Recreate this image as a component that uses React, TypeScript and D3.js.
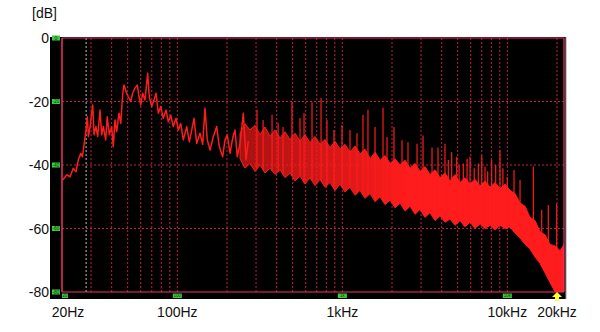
import React from 'react';
import * as d3 from 'd3';

const W = 600;
const H = 332;

// axis ticks / labels
const yTicks = [0, -20, -40, -60, -80];
const xLabelHz = [20, 100, 1000, 10000, 20000];
const xLabels = ['20Hz', '100Hz', '1kHz', '10kHz', '20kHz'];
const xTagHz = [20, 100, 1000, 10000];
const xTags = ['20', '100', '1k', '10k'];
const gridHz = [30, 40, 50, 60, 70, 80, 90, 100, 200, 300, 400, 500, 600, 700, 800, 900, 1000,
  2000, 3000, 4000, 5000, 6000, 7000, 8000, 9000, 10000, 20000];
const gridDb = [-20, -40, -60];
const markerHz = 28;
const cursorHz = 20000;

// jagged low-frequency trace (Hz, dB)
const traceHz = [20.2, 21.4, 22.4, 23.4, 24.3, 25.1, 26.0, 26.6, 27.3, 28.0, 28.5, 28.9, 29.6, 30.7, 31.3, 32.1,
  32.9, 34.0, 34.8, 35.6, 36.8, 37.6, 38.7, 40.0, 40.9, 41.9, 42.9, 44.3, 45.4, 46.7, 47.5, 48.9, 50.4, 52.2,
  53.6, 55.4, 57.2, 58.6, 60.0, 61.7, 63.7, 66.1, 67.6, 69.9, 72.2, 74.3, 76.7, 79.3, 82.2, 85.4, 88.2, 91.2,
  94.5, 98.2, 101.4, 104.8, 108.7, 114, 118.2, 122.2, 126.2, 131, 137.2, 142.5, 147.1, 151.9, 157.8, 165.2,
  173.2, 179.6, 188.3, 194.5, 200.8, 208.6, 216.6, 223.7, 230.9, 239.8, 251.2, 260.8, 269.2];
const traceDb = [-44.7, -43.1, -43.7, -41, -42.1, -38.4, -36.3, -37.4, -33, -29, -24.8, -31, -27.9, -21.1, -30.5, -27.9,
  -31, -22.7, -30.5, -27.9, -32.1, -24.8, -30.5, -27.9, -34.2, -25.8, -29.5, -23.7, -26.9, -17.4, -14.8, -16.9, -18.5, -20,
  -17.4, -15.8, -14.8, -18.5, -21.1, -17.4, -19.5, -11.1, -18.5, -21.6, -19.5, -17.4, -23.7, -21.6, -25.3, -22.7, -26.4, -24.3,
  -27.9, -25.3, -29, -26.9, -32.1, -27.9, -32.7, -29, -25.3, -33.2, -30, -33.5, -22.1, -32.1, -35.3, -31.1,
  -27.9, -34.2, -37.4, -32.1, -30.5, -36.3, -31.5, -29, -37.4, -33.2, -23.7, -38.4, -32.5];

// dense band (Hz, top dB, bottom dB)
const bandHz = [239.8, 257.1, 275.7, 295.6, 317.0, 339.9, 364.5, 390.8, 419.1, 449.4, 481.8, 516.7, 554.0, 594.1,
  637.0, 683.1, 732.5, 785.4, 842.2, 903.1, 968.4, 1038.5, 1113.6, 1194.1, 1280.4, 1373, 1472.3, 1578.8, 1692.9,
  1815.3, 1946.6, 2087.3, 2238.2, 2400, 2573.5, 2759.6, 2959.1, 3170, 3400, 3646, 3909, 4192, 4495, 4820, 5168,
  5542, 5942, 6372, 6833, 7327, 7856, 8424, 9033, 9686, 10386, 11136, 11941, 12804, 13730, 14722, 15786, 16927,
  18150, 19462, 20869, 22050];
const bandTopDb = [-30, -27, -29, -27.5, -30.5, -28, -31, -29, -31.5, -29.5, -32, -30, -32.5, -30.5,
  -33, -31, -33.5, -32, -34.5, -32.5, -35, -33.5, -36, -34, -36.5, -35, -38, -36, -38.5,
  -37, -39.5, -38, -40, -38.5, -41, -39.5, -42, -40.5, -43, -41.5, -44, -42.5, -45, -43, -45.5,
  -44, -46, -44.5, -46.5, -45, -47, -45.5, -47.5, -46, -48, -49, -52, -53, -56.5, -57.5, -61, -62,
  -65, -65.5, -67, -65];
const bandLowDb = [-38, -41, -39.5, -42, -40, -42.5, -41, -43, -41.5, -44, -42.5, -45, -43.5, -46,
  -44, -46.5, -44.5, -47, -45.5, -48, -46, -48.5, -47, -49.5, -48, -50.5, -49, -51.5, -50,
  -52.5, -51, -53.5, -52, -54.5, -53, -55.5, -54, -56.5, -55, -57.5, -56, -58, -57, -59, -57.5,
  -59.5, -58, -60, -58.5, -60, -59, -60.5, -59, -60, -59.5, -61.5, -63, -65, -66.5, -69, -71, -74,
  -77, -80, -80, -80];

// harmonic spikes (Hz, peak dB)
const spikeHz = [304, 331, 375, 408, 437, 495, 554, 586, 655, 743, 807, 890, 995, 1113, 1227, 1334, 1430, 1578,
  1764, 1865, 2056, 2300, 2500, 2836, 3084, 3496, 3800, 4190, 4388, 4600, 4932, 5100, 5410, 5700, 5940, 6300, 6668,
  7000, 7322, 7600, 8040, 8500, 9026, 9400, 9994, 10978, 11938, 14372, 16160, 17716, 19918];
const spikeDb = [-22.6, -25.8, -24.2, -26.7, -28, -20.2, -25.2, -23.7, -20.2, -18.9, -25.8, -29, -27.4, -29, -30, -24.2,
  -22.6, -28, -22, -31.2, -28, -32.2, -32.8, -33.3, -30.7, -34.5, -34.5, -33.3, -38.4, -36, -37.4, -40, -39.5, -38,
  -37.4, -41, -39.5, -37, -40.5, -42, -38.4, -40, -35.3, -41, -43.7, -41.6, -44.7, -40.5, -54.2, -52.6, -52.1];

const FONT = '"Liberation Sans", Arial, sans-serif';

export default function App() {
  const x = d3.scaleLog().domain([20, 22050]).range([62, 564]);
  const y = d3.scaleLinear().domain([0, -80]).range([38, 292]);
  const bandLowAt = d3.scaleLog().domain(bandHz).range(bandLowDb).clamp(true);

  const traceLine = d3.line<number>()
    .x((_, i) => x(traceHz[i]))
    .y((d) => y(d));
  const bandArea = d3.area<number>()
    .x((_, i) => x(bandHz[i]))
    .y0((_, i) => y(bandLowDb[i]))
    .y1((d) => y(d));

  const red = '#ff1c1c';
  const gridColor = '#c81e3c';
  const frameColor = '#f0306a';
  const [x0, x1] = x.range();
  const [y0, y1] = y.range();

  return (
    <svg width={W} height={H} style={{ position: 'fixed', left: 0, top: 0, background: '#fff' }}
      fontFamily={FONT}>
      <defs>
        <clipPath id="plotClip">
          <rect x={x0} y={y0} width={x1 - x0} height={y1 - y0} />
        </clipPath>
        <linearGradient id="bandGrad" gradientUnits="userSpaceOnUse" x1={x(240)} x2={x(2500)} y1={0} y2={0}>
          <stop offset="0" stopColor={red} stopOpacity={0.65} />
          <stop offset="1" stopColor={red} stopOpacity={1} />
        </linearGradient>
      </defs>

      {/* black screen */}
      <rect x={50} y={37} width={516} height={262} fill="#000" />
      <line x1={566} x2={566} y1={37} y2={299} stroke="#9a9a9a" strokeWidth={1} />

      {/* grid */}
      {gridHz.map((f) => (
        <line key={'gx' + f} x1={x(f)} x2={x(f)} y1={y0} y2={y1}
          stroke={gridColor} strokeWidth={1} strokeDasharray="2,2" />
      ))}
      <line x1={x(markerHz)} x2={x(markerHz)} y1={y0} y2={y1}
        stroke="#bfbfbf" strokeWidth={1} strokeDasharray="2,2" />
      {gridDb.map((d) => (
        <line key={'gy' + d} x1={x0} x2={x1} y1={y(d)} y2={y(d)}
          stroke={gridColor} strokeWidth={1} strokeDasharray="2,2" />
      ))}

      {/* data */}
      <g clipPath="url(#plotClip)">
        <path d={bandArea(bandTopDb) || ''} fill="url(#bandGrad)" stroke={red} strokeWidth={1} strokeLinejoin="round" />
        {spikeHz.map((f, i) => (
          <line key={'s' + i} x1={x(f)} x2={x(f)} y1={y(bandLowAt(f))} y2={y(spikeDb[i])}
            stroke={red} strokeWidth={1.2} />
        ))}
        <path d={traceLine(traceDb) || ''} fill="none" stroke={red} strokeWidth={1.5} strokeLinejoin="round" />
      </g>

      {/* frame */}
      <line x1={x0} x2={x1} y1={y0} y2={y0} stroke={frameColor} strokeWidth={1.2} />
      <line x1={x0} x2={x1} y1={y1} y2={y1} stroke={frameColor} strokeWidth={1.2} />
      <line x1={x0} x2={x0} y1={y0} y2={y1} stroke={frameColor} strokeWidth={1.5} />
      <line x1={x1} x2={x1} y1={y0} y2={y1} stroke={frameColor} strokeWidth={1.2} />

      {/* green tags */}
      {yTicks.map((d) => (
        <g key={'ty' + d}>
          <rect x={52} y={y(d) - 2.5} width={8} height={5} fill="#3ccc3c" />
          <text x={56} y={y(d) + 1.8} fontSize={5} textAnchor="middle" fill="#0a400a">{d}</text>
        </g>
      ))}
      {xTagHz.map((f, i) => (
        <g key={'tx' + f}>
          <rect x={x(f) - (i === 0 ? 0 : 4.5)} y={293.5} width={i === 0 ? 6 : 9} height={4.5} fill="#3ccc3c" />
          <text x={x(f) + (i === 0 ? 3 : 0)} y={297.3} fontSize={4.5} textAnchor="middle" fill="#0a400a">{xTags[i]}</text>
        </g>
      ))}

      {/* yellow cursor arrow */}
      <path d={`M${x(cursorHz)},${y1} l-5,5 h3 v4 h4 v-4 h3 z`} fill="#ffff30" />

      {/* labels */}
      <text x={32} y={18} fontSize={14} fill="#111">[dB]</text>
      {yTicks.map((d) => (
        <text key={'ly' + d} x={49} y={y(d) + 5} fontSize={14} textAnchor="end" fill="#111">{d}</text>
      ))}
      {xLabelHz.map((f, i) => (
        <text key={'lx' + f} x={x(f) + (i === 0 ? 6 : 0)} y={317} fontSize={14} textAnchor="middle" fill="#111">
          {xLabels[i]}
        </text>
      ))}
    </svg>
  );
}
